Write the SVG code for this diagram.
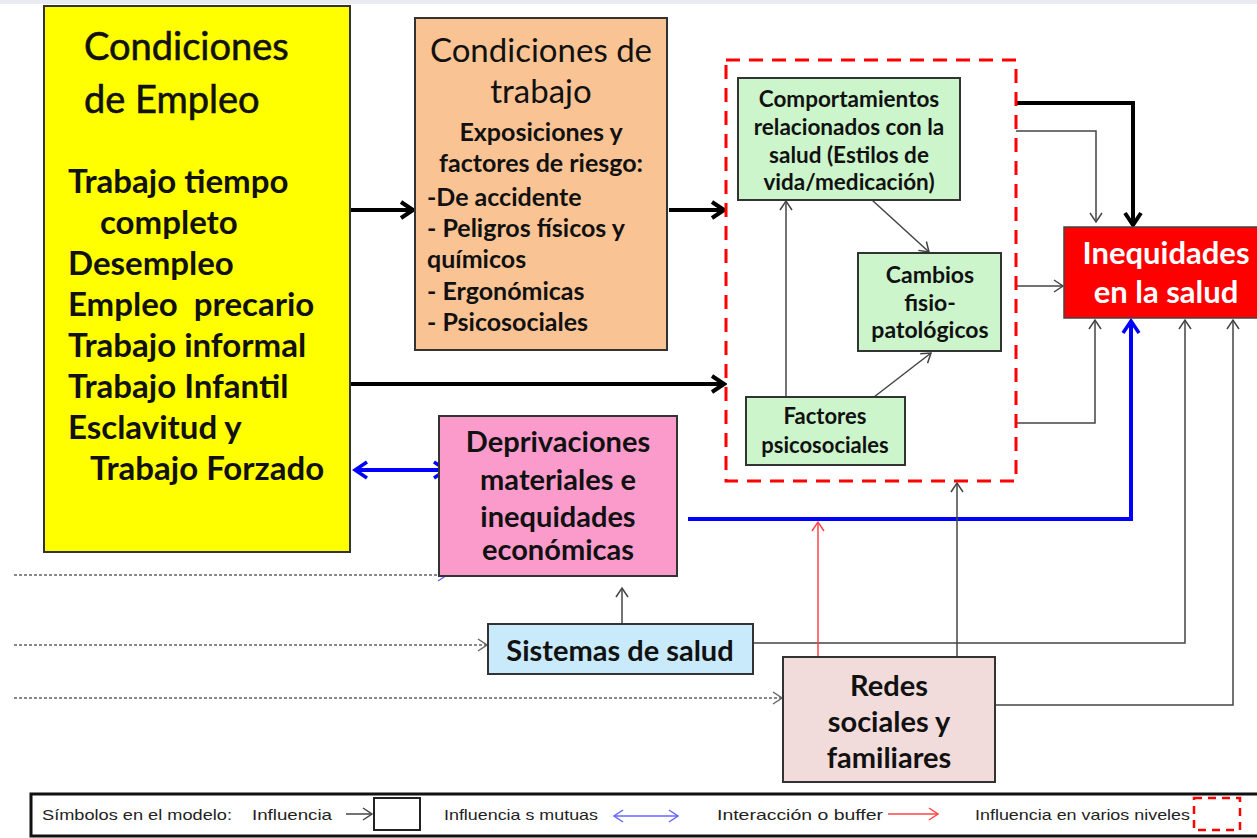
<svg xmlns="http://www.w3.org/2000/svg" width="1257" height="838" viewBox="0 0 1257 838">
<defs>
<style>
text{font-family:Lato,"Open Sans","Liberation Sans",sans-serif;fill:#111;}
.b{font-weight:bold;}
.m{stroke:#111;stroke-width:0.6;}
.box{stroke:#333;stroke-width:2;}
.thin{fill:none;stroke:#444;stroke-width:1.5;}
.thick{fill:none;stroke:#000;stroke-width:4;}
.blue{fill:none;stroke:#0000FF;stroke-width:4;}
.red{fill:none;stroke:#FF4444;stroke-width:1.5;}
.dot{fill:none;stroke:#888;stroke-width:2;stroke-dasharray:3 2;}
.c{text-anchor:middle;}
.leg{font-family:"Liberation Sans",Arial,sans-serif;font-size:15px;fill:#222;}
</style>
<marker id="ahT" markerUnits="userSpaceOnUse" markerWidth="20" markerHeight="20" viewBox="0 0 20 20" refX="17" refY="10" orient="auto"><path d="M5,2 L17,10 L5,18" fill="none" stroke="#000" stroke-width="4"/></marker>
<marker id="ahB" markerUnits="userSpaceOnUse" markerWidth="20" markerHeight="20" viewBox="0 0 20 20" refX="17" refY="10" orient="auto-start-reverse"><path d="M5,2 L17,10 L5,18" fill="none" stroke="#0000FF" stroke-width="3.5"/></marker>
<marker id="ahG" markerUnits="userSpaceOnUse" markerWidth="14" markerHeight="14" viewBox="0 0 14 14" refX="12" refY="7" orient="auto"><path d="M3,1 L12,7 L3,13" fill="none" stroke="#444" stroke-width="1.5"/></marker>
<marker id="ahR" markerUnits="userSpaceOnUse" markerWidth="14" markerHeight="14" viewBox="0 0 14 14" refX="12" refY="7" orient="auto"><path d="M3,1 L12,7 L3,13" fill="none" stroke="#FF4444" stroke-width="1.5"/></marker>
<marker id="ahBl" markerUnits="userSpaceOnUse" markerWidth="14" markerHeight="14" viewBox="0 0 14 14" refX="12" refY="7" orient="auto-start-reverse"><path d="M3,1 L12,7 L3,13" fill="none" stroke="#6666FF" stroke-width="1.5"/></marker>
<marker id="ahD" markerUnits="userSpaceOnUse" markerWidth="14" markerHeight="14" viewBox="0 0 14 14" refX="12" refY="7" orient="auto"><path d="M3,1 L12,7 L3,13" fill="none" stroke="#666" stroke-width="1.5"/></marker>
</defs>
<rect x="0" y="0" width="1257" height="838" fill="#fff"/>
<rect x="0" y="0" width="1257" height="4" fill="#e8ebf0"/>

<g id="connectors">
<line class="thick" x1="351" y1="210" x2="413" y2="210" marker-end="url(#ahT)"/>
<line class="thick" x1="669" y1="210" x2="724" y2="210" marker-end="url(#ahT)"/>
<line class="thick" x1="351" y1="384" x2="724" y2="384" marker-end="url(#ahT)"/>
<line class="blue" stroke-width="3" x1="355" y1="470" x2="446" y2="470" marker-start="url(#ahB)" marker-end="url(#ahB)"/>
<path class="thick" d="M1016,103 H1133 V225" marker-end="url(#ahT)"/>
<path class="thin" d="M1016,131 H1096 V222" marker-end="url(#ahG)"/>
<line class="thin" x1="1016" y1="286" x2="1063" y2="286" marker-end="url(#ahG)"/>
<path class="thin" d="M1016,423 H1095 V320" marker-end="url(#ahG)"/>
<path class="blue" d="M688,519 H1131 V321" marker-end="url(#ahB)"/>
<path class="thin" d="M754,643 H1185 V320" marker-end="url(#ahG)"/>
<path class="thin" d="M996,705 H1233 V320" marker-end="url(#ahG)"/>
<line class="thin" x1="957" y1="657" x2="957" y2="483" marker-end="url(#ahG)"/>
<line class="red" x1="818" y1="657" x2="818" y2="522" marker-end="url(#ahR)"/>
<line class="thin" x1="622" y1="624" x2="622" y2="588" marker-end="url(#ahG)"/>
<line class="thin" x1="786" y1="397" x2="786" y2="201" marker-end="url(#ahG)"/>
<line class="thin" x1="872" y1="200" x2="929" y2="252" marker-end="url(#ahG)"/>
<line class="thin" x1="874" y1="397" x2="931" y2="353" marker-end="url(#ahG)"/>
<line class="thin" x1="619" y1="448" x2="619" y2="476" marker-end="url(#ahG)"/>
<line class="dot" stroke="#7777FF" x1="14" y1="575" x2="447" y2="575" marker-end="url(#ahBl)"/>
<line class="dot" x1="14" y1="645" x2="487" y2="645" marker-end="url(#ahD)"/>
<line class="dot" x1="14" y1="698" x2="782" y2="698" marker-end="url(#ahD)"/>
</g>

<g id="empleo">
<rect class="box" x="44" y="6" width="306" height="546" fill="#FFFF00" stroke="#222" stroke-width="2.5"/>
<text x="84" y="60" font-size="38" class="m">Condiciones</text>
<text x="84" y="113" font-size="38" class="m">de Empleo</text>
<g font-size="33">
<text x="68" y="193" class="b">Trabajo tiempo</text>
<text x="100" y="234" class="b">completo</text>
<text x="68" y="275" class="b">Desempleo</text>
<text x="68" y="316" class="b" xml:space="preserve">Empleo  precario</text>
<text x="68" y="357" class="b">Trabajo informal</text>
<text x="68" y="398" class="b">Trabajo Infantil</text>
<text x="68" y="439" class="b">Esclavitud y</text>
<text x="90" y="480" class="b">Trabajo Forzado</text>
</g>
</g>

<g id="trabajo">
<rect class="box" x="415" y="18" width="252" height="332" fill="#FAC393"/>
<text x="541" y="62" font-size="33" class="c">Condiciones de</text>
<text x="541" y="103" font-size="33" class="c">trabajo</text>
<text x="541" y="141" font-size="25" class="c b">Exposiciones y</text>
<text x="541" y="172" font-size="25" class="c b">factores de riesgo:</text>
<text x="427" y="206" font-size="25" class="b">-De accidente</text>
<text x="427" y="237" font-size="25" class="b">- Peligros físicos y</text>
<text x="427" y="268" font-size="25" class="b">químicos</text>
<text x="427" y="300" font-size="25" class="b">- Ergonómicas</text>
<text x="427" y="331" font-size="25" class="b">- Psicosociales</text>
</g>

<g id="multinivel">
<rect x="726" y="60" width="290" height="421" fill="none" stroke="#FF0000" stroke-width="3" stroke-dasharray="14 9"/>
</g>

<g id="comportamientos">
<rect class="box" x="738" y="78" width="222" height="122" fill="#CCF5CC"/>
<text x="849" y="107" font-size="22.5" class="c b">Comportamientos</text>
<text x="849" y="135" font-size="22.5" class="c b">relacionados con la</text>
<text x="849" y="163" font-size="22.5" class="c b">salud (Estilos de</text>
<text x="849" y="190" font-size="22.5" class="c b">vida/medicación)</text>
</g>

<g id="cambios">
<rect class="box" x="858" y="253" width="143" height="98" fill="#CCF5CC"/>
<text x="930" y="283" font-size="23" class="c b">Cambios</text>
<text x="930" y="311" font-size="23" class="c b">fisio-</text>
<text x="930" y="338" font-size="23" class="c b">patológicos</text>
</g>

<g id="factores">
<rect class="box" x="746" y="397" width="159" height="68" fill="#CCF5CC"/>
<text x="825" y="424" font-size="22" class="c b">Factores</text>
<text x="825" y="453" font-size="22" class="c b">psicosociales</text>
</g>

<g id="inequidades">
<rect x="1064" y="227" width="196" height="91" fill="#FF0000" stroke="#444" stroke-width="1.5"/>
<text x="1166" y="264" font-size="31" class="c b" style="fill:#fff">Inequidades</text>
<text x="1166" y="303" font-size="31" class="c b" style="fill:#fff">en la salud</text>
</g>

<g id="deprivaciones">
<rect class="box" x="439" y="416" width="238" height="160" fill="#FB9BCB"/>
<text x="558" y="452" font-size="29" class="c b">Deprivaciones</text>
<text x="558" y="490" font-size="29" class="c b">materiales e</text>
<text x="558" y="527" font-size="29" class="c b">inequidades</text>
<text x="558" y="560" font-size="29" class="c b">económicas</text>
</g>

<g id="sistemas">
<rect class="box" x="488" y="624" width="265" height="50" fill="#C9EAFA"/>
<text x="620" y="661" font-size="29" class="c b">Sistemas de salud</text>
</g>

<g id="redes">
<rect class="box" x="783" y="657" width="212" height="125" fill="#F2DCDB"/>
<text x="889" y="696" font-size="29" class="c b">Redes</text>
<text x="889" y="732" font-size="29" class="c b">sociales y</text>
<text x="889" y="768" font-size="29" class="c b">familiares</text>
</g>

<g id="legend">
<rect x="31" y="794" width="1240" height="42" fill="#fff" stroke="#111" stroke-width="3"/>
<text class="leg" x="42" y="820" textLength="190" lengthAdjust="spacingAndGlyphs">Símbolos en el modelo:</text>
<text class="leg" x="252" y="820" textLength="80" lengthAdjust="spacingAndGlyphs">Influencia</text>
<line x1="346" y1="814" x2="372" y2="814" stroke="#444" stroke-width="1.5" marker-end="url(#ahG)"/>
<rect x="374" y="798" width="46" height="32" fill="#fff" stroke="#222" stroke-width="2"/>
<text class="leg" x="444" y="820" textLength="154" lengthAdjust="spacingAndGlyphs">Influencia s mutuas</text>
<line x1="614" y1="816" x2="678" y2="816" stroke="#6666FF" stroke-width="1.5" marker-start="url(#ahBl)" marker-end="url(#ahBl)"/>
<text class="leg" x="717" y="820" textLength="166" lengthAdjust="spacingAndGlyphs">Interacción o buffer</text>
<line x1="888" y1="814" x2="938" y2="814" stroke="#FF4444" stroke-width="1.5" marker-end="url(#ahR)"/>
<text class="leg" x="975" y="820" textLength="215" lengthAdjust="spacingAndGlyphs">Influencia en varios niveles</text>
<rect x="1194" y="798" width="46" height="32" fill="none" stroke="#FF0000" stroke-width="2.5" stroke-dasharray="8 6"/>
</g>
</svg>
